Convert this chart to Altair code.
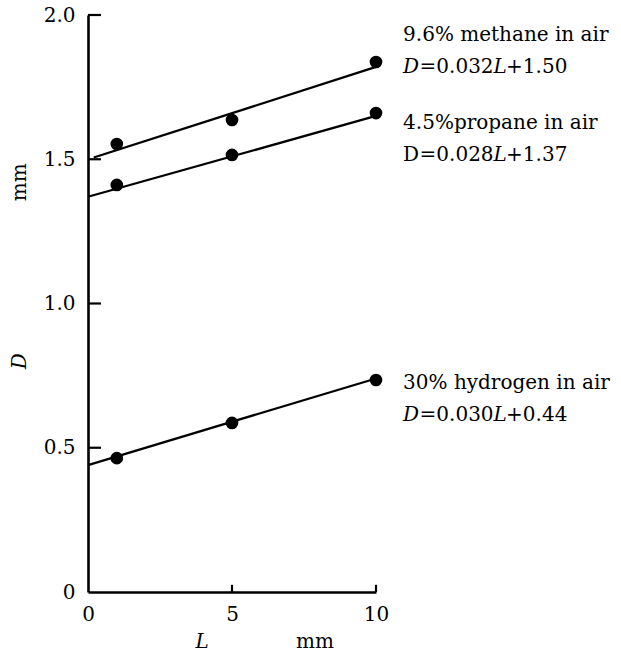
import altair as alt
import pandas as pd

# ---- data ----
L_points = [1, 5, 10]
methane_D = [1.553, 1.636, 1.837]
propane_D = [1.411, 1.515, 1.660]
hydrogen_D = [0.464, 0.586, 0.735]

methane_line_L = [0.2, 10]
methane_line_D = [1.506, 1.82]
propane_line_L = [0, 10]
propane_line_D = [1.37, 1.65]
hydrogen_line_L = [0, 10]
hydrogen_line_D = [0.44, 0.74]

gases = ["methane", "propane", "hydrogen"]
names = ["9.6% methane in air", "4.5%propane in air", "30% hydrogen in air"]
eq_coef = ["=0.032", "=0.028", "=0.030"]
eq_const = ["+1.50", "+1.37", "+0.44"]

y_ticks = [0, 0.5, 1.0, 1.5, 2.0]
x_ticks = [0, 5, 10]

# annotation anchors (data coordinates)
name_y = [1.931, 1.626, 0.724]
eq_y = [1.820, 1.515, 0.614]
ann_x = 10.94

FONT = "DejaVu Serif"
FS = 20

pts = pd.DataFrame({
    "L": L_points * 3,
    "D": methane_D + propane_D + hydrogen_D,
    "gas": sum([[g] * 3 for g in gases], []),
})
lines = pd.DataFrame({
    "L": methane_line_L + propane_line_L + hydrogen_line_L,
    "D": methane_line_D + propane_line_D + hydrogen_line_D,
    "gas": sum([[g] * 2 for g in gases], []),
})
ann = pd.DataFrame({
    "x": [ann_x] * 3,
    "name": names,
    "name_y": name_y,
    "eq_y": eq_y,
    "coef": eq_coef,
    "const": eq_const,
    "gas": gases,
})

xs = alt.Scale(domain=[0, 10], nice=False, zero=False)
ys = alt.Scale(domain=[0, 2.0], nice=False, zero=False)

base_x = alt.X("L:Q", scale=xs,
               axis=alt.Axis(values=x_ticks, title=None, ticks=False, tickSize=0,
                             grid=False, domainColor="black", domainWidth=2.6,
                             labelFont=FONT, labelFontSize=FS, labelColor="black",
                             labelPadding=12, labelFlush=False))
base_y = alt.Y("D:Q", scale=ys,
               axis=alt.Axis(values=y_ticks, title=None, ticks=False, tickSize=0,
                             grid=False, domainColor="black", domainWidth=2.6,
                             labelFont=FONT, labelFontSize=FS, labelColor="black",
                             labelPadding=13, labelFlush=False,
                             labelExpr="datum.value == 0 ? '0' : format(datum.value, '.1f')"))

line_layer = alt.Chart(lines).mark_line(color="black", strokeWidth=2.3).encode(
    x=base_x, y=base_y, detail="gas:N")
pt_layer = alt.Chart(pts).mark_circle(color="black", opacity=1, size=160).encode(
    x="L:Q", y="D:Q")

# inward tick marks
ytick_df = pd.DataFrame({"v": y_ticks[1:]})
xtick_df = pd.DataFrame({"v": x_ticks[1:]})
ytick_layer = alt.Chart(ytick_df).mark_rule(color="black", strokeWidth=2.2).encode(
    x=alt.datum(0), x2=alt.datum(0.45), y="v:Q")
xtick_layer = alt.Chart(xtick_df).mark_rule(color="black", strokeWidth=2.2).encode(
    x="v:Q", y=alt.datum(0), y2=alt.datum(0.025))

txt = dict(font=FONT, fontSize=FS, color="black", align="left", baseline="middle")
name_layer = alt.Chart(ann).mark_text(**txt).encode(x="x:Q", y="name_y:Q", text="name:N")
d_ital = alt.Chart(ann).transform_filter("datum.gas != 'propane'").mark_text(
    fontStyle="italic", **txt).encode(x="x:Q", y="eq_y:Q", text=alt.value("D"))
d_up = alt.Chart(ann).transform_filter("datum.gas == 'propane'").mark_text(
    **txt).encode(x="x:Q", y="eq_y:Q", text=alt.value("D"))
coef_layer = alt.Chart(ann).mark_text(dx=16.5, **txt).encode(
    x="x:Q", y="eq_y:Q", text="coef:N")
l_layer = alt.Chart(ann).mark_text(dx=90.5, fontStyle="italic", **txt).encode(
    x="x:Q", y="eq_y:Q", text=alt.value("L"))
const_layer = alt.Chart(ann).mark_text(dx=103, **txt).encode(
    x="x:Q", y="eq_y:Q", text="const:N")

# axis titles
titles = pd.DataFrame({
    "x": [-2.36, -2.36, 3.96, 7.88],
    "y": [0.80, 1.42, -0.175, -0.175],
    "t": ["D", "mm", "L", "mm"],
    "ital": [True, False, True, False],
    "rot": [True, True, False, False],
})
ttxt = dict(font=FONT, fontSize=FS, color="black", align="center", baseline="middle")
t_rot_i = alt.Chart(titles).transform_filter("datum.rot && datum.ital").mark_text(
    angle=270, fontStyle="italic", **ttxt).encode(x="x:Q", y="y:Q", text="t:N")
t_rot = alt.Chart(titles).transform_filter("datum.rot && !datum.ital").mark_text(
    angle=270, **ttxt).encode(x="x:Q", y="y:Q", text="t:N")
t_i = alt.Chart(titles).transform_filter("!datum.rot && datum.ital").mark_text(
    fontStyle="italic", **ttxt).encode(x="x:Q", y="y:Q", text="t:N")
t_n = alt.Chart(titles).transform_filter("!datum.rot && !datum.ital").mark_text(
    **ttxt).encode(x="x:Q", y="y:Q", text="t:N")

chart = alt.layer(
    line_layer, pt_layer, ytick_layer, xtick_layer,
    name_layer, d_ital, d_up, coef_layer, l_layer, const_layer,
    t_rot_i, t_rot, t_i, t_n,
).properties(
    width=288, height=577,
    autosize=alt.AutoSizeParams(type="none"),
    padding={"left": 88, "top": 15, "right": 245, "bottom": 62},
    background="white",
).configure_view(stroke=None)

chart.save("out.html", embed_options={"renderer": "svg", "actions": False})
